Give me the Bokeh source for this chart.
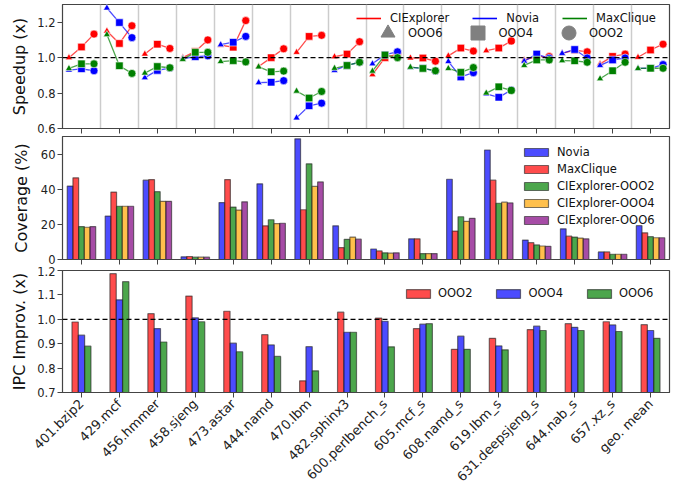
import math
from bokeh.plotting import figure
from bokeh.models import Range1d, FixedTicker, Span, Legend, LegendItem, NumeralTickFormatter
from bokeh.layouts import column
from bokeh.embed import file_html
from bokeh.resources import INLINE

benchmarks = ["401.bzip2", "429.mcf", "456.hmmer", "458.sjeng", "473.astar", "444.namd",
              "470.lbm", "482.sphinx3", "600.perlbench_s", "605.mcf_s", "608.namd_s",
              "619.lbm_s", "631.deepsjeng_s", "644.nab_s", "657.xz_s", "geo. mean"]

# ---- Speedup (x) ----
cie_ooo6 = [1.00, 1.15, 1.02, 1.00, 1.07, 0.95, 1.03, 1.005, 0.904, 0.998, 1.01, 1.039, 0.987, 1.024, 0.965, 1.002]
cie_ooo4 = [1.06, 1.08, 1.076, 1.035, 1.059, 1.00, 1.12, 1.02, 1.00, 0.998, 1.054, 1.054, 1.006, 1.043, 1.007, 1.043]
cie_ooo2 = [1.133, 1.18, 1.052, 1.10, 1.209, 1.05, 1.126, 1.09, 1.02, 0.98, 1.037, 1.094, 1.006, 1.033, 1.02, 1.076]

novia_ooo6 = [0.93, 1.28, 0.887, 0.995, 1.073, 0.859, 0.66, 0.928, 0.965, 0.945, 0.978, 0.795, 0.98, 1.024, 0.956, 0.939]
novia_ooo4 = [0.937, 1.198, 0.928, 1.005, 1.087, 0.861, 0.728, 0.956, 1.017, 0.94, 0.891, 0.776, 1.02, 1.046, 0.987, 0.94]
novia_ooo2 = [0.926, 1.113, 0.941, 1.01, 1.12, 0.87, 0.743, 0.974, 1.033, 0.925, 0.915, 0.817, 0.996, 0.998, 0.998, 0.961]

mc_ooo6 = [0.939, 1.13, 0.913, 0.99, 0.978, 0.948, 0.811, 0.94, 0.924, 0.946, 0.939, 0.80, 0.956, 0.983, 0.881, 0.939]
mc_ooo4 = [0.965, 0.954, 0.95, 1.03, 0.983, 0.92, 0.772, 0.956, 1.015, 0.939, 0.917, 0.835, 0.987, 0.982, 0.926, 0.94]
mc_ooo2 = [0.965, 0.911, 0.943, 1.03, 0.976, 0.924, 0.809, 0.974, 1.00, 0.926, 0.944, 0.815, 0.987, 0.974, 0.974, 0.94]

# ---- Coverage (%) ----
cov_novia = [41.9, 24.8, 45.3, 1.5, 32.5, 43.2, 68.9, 19.2, 6.0, 11.8, 45.8, 62.5, 11.1, 17.5, 4.3, 19.3]
cov_maxclique = [46.6, 38.5, 45.6, 1.7, 45.6, 19.2, 28.4, 6.8, 4.9, 11.8, 16.2, 45.3, 9.6, 13.3, 4.3, 15.2]
cov_cie_ooo2 = [18.8, 30.4, 38.7, 1.3, 29.9, 22.7, 54.6, 11.5, 3.8, 3.4, 24.4, 32.1, 8.3, 12.8, 3.0, 13.0]
cov_cie_ooo4 = [18.4, 30.4, 33.2, 1.3, 28.2, 20.5, 41.7, 12.8, 3.6, 3.4, 21.8, 32.7, 7.7, 12.2, 3.0, 12.4]
cov_cie_ooo6 = [18.8, 30.4, 33.2, 1.3, 32.9, 20.7, 44.3, 11.6, 3.8, 3.4, 23.5, 32.3, 7.5, 11.8, 3.0, 12.4]

# ---- IPC improvement (x) ----
ipc_ooo2 = [0.989, 1.187, 1.023, 1.095, 1.033, 0.937, 0.748, 1.029, 1.005, 0.962, 0.877, 0.922, 0.958, 0.982, 0.990, 0.978]
ipc_ooo4 = [0.935, 1.080, 0.962, 1.006, 0.902, 0.895, 0.888, 0.947, 0.992, 0.980, 0.931, 0.891, 0.972, 0.967, 0.977, 0.954]
ipc_ooo6 = [0.890, 1.154, 0.907, 0.990, 0.867, 0.848, 0.789, 0.947, 0.887, 0.982, 0.877, 0.875, 0.954, 0.954, 0.950, 0.922]

FONT = "DejaVu Sans"
TICK_FS = "11.5px"
XTICK_FS = "13px"
LAB_FS = "16px"
n = len(benchmarks)
idx = list(range(n))


def base_fig(frame_h, y0, y1, ticks, label, top_border, bottom_border, fmt=None,
             show_x_labels=False, label_standoff=5):
    p = figure(frame_width=607, frame_height=frame_h, x_range=Range1d(-0.5, n - 0.5),
               y_range=Range1d(y0, y1), output_backend="svg", toolbar_location=None,
               min_border_left=62, min_border_right=12, min_border_top=top_border,
               min_border_bottom=bottom_border)
    p.outline_line_color = "#444444"
    p.outline_line_width = 1.2
    p.ygrid.visible = False
    p.xgrid.visible = False
    for ax in (p.xaxis[0], p.yaxis[0]):
        ax.axis_line_color = "#444444"
        ax.major_tick_line_color = "#444444"
        ax.major_tick_out = 5
        ax.major_tick_in = 0
        ax.minor_tick_line_color = None
        ax.major_label_text_font = FONT
        ax.major_label_text_font_size = TICK_FS
        ax.major_label_text_color = "#222222"
    p.yaxis.ticker = FixedTicker(ticks=ticks)
    if fmt:
        p.yaxis.formatter = NumeralTickFormatter(format=fmt)
    p.yaxis.major_label_standoff = 2
    p.yaxis.axis_label = label
    p.yaxis.axis_label_text_font = FONT
    p.yaxis.axis_label_text_font_size = LAB_FS
    p.yaxis.axis_label_text_font_style = "normal"
    p.yaxis.axis_label_text_color = "#111111"
    p.yaxis.axis_label_standoff = label_standoff
    p.xaxis.ticker = FixedTicker(ticks=idx)
    if show_x_labels:
        p.xaxis.major_label_overrides = {i: b for i, b in enumerate(benchmarks)}
        p.xaxis.major_label_orientation = math.pi / 4
        p.xaxis.major_label_standoff = 4
        p.xaxis.major_label_text_font_size = XTICK_FS
    else:
        p.xaxis.major_label_overrides = {i: "" for i in idx}
        p.xaxis.major_label_text_font_size = "0px"
        p.xaxis.major_label_standoff = 0
    return p


def style_legend(lg):
    lg.padding = 0
    lg.margin = 0
    lg.border_line_color = None
    lg.background_fill_alpha = 0
    lg.inactive_fill_alpha = 0
    lg.label_text_font = FONT
    lg.label_text_font_size = TICK_FS
    lg.label_text_color = "#111111"
    lg.orientation = "horizontal"


# ================= Top: speedup =================
p1 = base_fig(124, 0.6, 1.3, [0.6, 0.8, 1.0, 1.2], "Speedup (x)", 4, 7, fmt="0.0")
p1.xgrid.visible = True
p1.xgrid.ticker = FixedTicker(ticks=[i + 0.5 for i in range(n - 1)])
p1.xgrid.grid_line_color = "#cccccc"
p1.xgrid.grid_line_width = 1.5
p1.add_layout(Span(location=1.0, dimension="width", line_color="black",
                   line_dash="5 3", line_width=1.2))

off = [-0.33, 0.0, 0.33]
series = [("red", cie_ooo6, cie_ooo4, cie_ooo2),
          ("blue", novia_ooo6, novia_ooo4, novia_ooo2),
          ("green", mc_ooo6, mc_ooo4, mc_ooo2)]
legend_lines = []
for color, s6, s4, s2 in series:
    xs = [[i + off[0], i + off[1], i + off[2]] for i in idx]
    ys = [[s6[i], s4[i], s2[i]] for i in idx]
    p1.multi_line(xs=xs, ys=ys, line_color=color, line_alpha=0.7, line_width=1.3)
    # hidden copy used only for the legend swatch (full colour)
    legend_lines.append(p1.multi_line(xs=xs, ys=ys, line_color=color, line_width=1.6,
                                      visible=False))
    p1.scatter([i + off[0] for i in idx], s6, marker="triangle", size=7,
               fill_color=color, line_color="white", line_width=0.6)
    p1.scatter([i + off[1] for i in idx], s4, marker="square", size=7.5,
               fill_color=color, line_color="white", line_width=0.6)
    p1.scatter([i + off[2] for i in idx], s2, marker="circle", size=8,
               fill_color=color, line_color="white", line_width=0.6)

# grey legend-only marker renderers (hidden on the plot)
m6 = p1.scatter([i + off[0] for i in idx], cie_ooo6, marker="triangle", color="grey", visible=False)
m4 = p1.scatter([i + off[1] for i in idx], cie_ooo4, marker="square", color="grey", visible=False)
m2 = p1.scatter([i + off[2] for i in idx], cie_ooo2, marker="circle", color="grey", visible=False)

leg1 = Legend(items=[LegendItem(label="CIExplorer", renderers=[legend_lines[0]]),
                     LegendItem(label="Novia", renderers=[legend_lines[1]]),
                     LegendItem(label="MaxClique", renderers=[legend_lines[2]])],
              location=(294, 103))
style_legend(leg1)
leg1.glyph_width = 25
leg1.glyph_height = 12
leg1.label_height = 12
leg1.label_standoff = 9
leg1.spacing = 23
p1.add_layout(leg1)

leg2 = Legend(items=[LegendItem(label="OOO6", renderers=[m6]),
                     LegendItem(label="OOO4", renderers=[m4]),
                     LegendItem(label="OOO2", renderers=[m2])],
              location=(308, 78))
style_legend(leg2)
leg2.glyph_width = 35
leg2.glyph_height = 35
leg2.label_height = 12
leg2.label_standoff = 3
leg2.spacing = 18
p1.add_layout(leg2)

# ================= Middle: coverage =================
p2 = base_fig(123, 0, 70.2, [0, 20, 40, 60], "Coverage (%)", 1, 7, label_standoff=7)
cov_series = [("Novia", cov_novia, "blue"), ("MaxClique", cov_maxclique, "red"),
              ("CIExplorer-OOO2", cov_cie_ooo2, "green"), ("CIExplorer-OOO4", cov_cie_ooo4, "orange"),
              ("CIExplorer-OOO6", cov_cie_ooo6, "purple")]
bw = 0.15
items2 = []
for k, (name, vals, color) in enumerate(cov_series):
    r = p2.vbar(x=[i + (k - 2) * bw for i in idx], top=vals, bottom=0, width=bw,
                fill_color=color, fill_alpha=0.7, line_color="#222222", line_alpha=0.6,
                line_width=1.2)
    items2.append(LegendItem(label=name, renderers=[r]))
leg3 = Legend(items=items2, location=(459, 32))
style_legend(leg3)
leg3.orientation = "vertical"
leg3.glyph_width = 30
leg3.glyph_height = 10
leg3.label_height = 14
leg3.label_standoff = 6
leg3.spacing = 3
p2.add_layout(leg3)

# ================= Bottom: IPC improvement =================
p3 = base_fig(122, 0.7, 1.2, [0.7, 0.8, 0.9, 1.0, 1.1, 1.2], "IPC Improv. (x)", 4, 0,
              fmt="0.0", show_x_labels=True)
p3.add_layout(Span(location=1.0, dimension="width", line_color="black",
                   line_dash="5 3", line_width=1.2))
ipc_series = [("OOO2", ipc_ooo2, "red"), ("OOO4", ipc_ooo4, "blue"), ("OOO6", ipc_ooo6, "green")]
bw3 = 1.0 / 6
items3 = []
for k, (name, vals, color) in enumerate(ipc_series):
    r = p3.vbar(x=[i + (k - 1) * bw3 for i in idx], top=vals, bottom=0.7, width=bw3,
                fill_color=color, fill_alpha=0.7, line_color="#222222", line_alpha=0.6,
                line_width=1.2)
    items3.append(LegendItem(label=name, renderers=[r]))
leg4 = Legend(items=items3, location=(341, 92))
style_legend(leg4)
leg4.glyph_width = 30
leg4.glyph_height = 11
leg4.label_height = 14
leg4.label_standoff = 5
leg4.spacing = 21
p3.add_layout(leg4)

layout = column(p1, p2, p3, spacing=0)
open("out.html", "w").write(file_html(layout, INLINE))
